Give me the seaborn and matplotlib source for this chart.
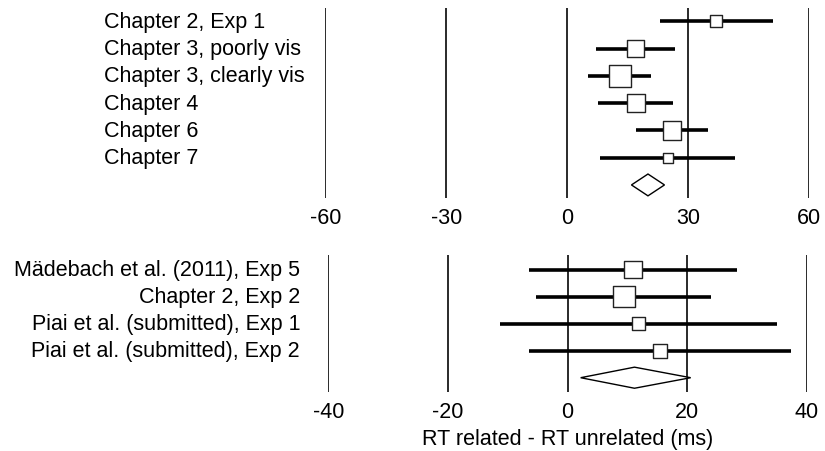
import matplotlib
matplotlib.use("Agg")
import matplotlib.pyplot as plt
import seaborn as sns
import pandas as pd

# ---- data: top panel ----
top_labels = ["Chapter 2, Exp 1", "Chapter 3, poorly vis", "Chapter 3, clearly vis",
              "Chapter 4", "Chapter 6", "Chapter 7"]
top_est = [37.0, 17.0, 13.1, 17.1, 26.1, 25.1]
top_lo = [23.0, 7.3, 5.1, 7.7, 17.2, 8.3]
top_hi = [51.2, 26.7, 20.9, 26.3, 35.1, 41.8]
top_weight = [11.7, 17.3, 22.0, 18.0, 18.7, 10.0]
top_summary = (20.1, 16.0, 24.2)  # estimate, lower, upper
top_ticks = [-60, -30, 0, 30, 60]

# ---- data: bottom panel ----
bot_labels = ["Mädebach et al. (2011), Exp 5", "Chapter 2, Exp 2",
              "Piai et al. (submitted), Exp 1", "Piai et al. (submitted), Exp 2"]
bot_est = [10.9, 9.4, 11.8, 15.4]
bot_lo = [-6.4, -5.3, -11.3, -6.5]
bot_hi = [28.3, 24.0, 35.0, 37.3]
bot_weight = [17.7, 21.7, 13.0, 14.0]
bot_summary = (11.2, 2.2, 20.6)
bot_ticks = [-40, -20, 0, 20, 40]

xlabel = "RT related - RT unrelated (ms)"

sns.set_theme(style="white")
plt.rcParams["font.family"] = ["Liberation Sans", "DejaVu Sans"]

FS = 15.5
W, H = 825, 452
fig = plt.figure(figsize=(W / 100, H / 100), dpi=100)


def px_axes(left, right, top, bottom):
    return fig.add_axes([left / W, 1 - bottom / H, (right - left) / W, (bottom - top) / H])


def forest(ax, labels, est, lo, hi, weight, summary, ticks, ylim, diamond_h):
    n = len(labels)
    df = pd.DataFrame({"label": labels, "est": est, "lo": lo, "hi": hi,
                       "w": weight, "row": list(range(n))})
    for t in ticks:
        ax.axvline(t, color="#2a2a2a", lw=1.4, zorder=0)
    ax.hlines(df["row"], df["lo"], df["hi"], color="black", lw=2.6, zorder=2)
    sizes = {w: (w * 0.72) ** 2 for w in df["w"]}
    sns.scatterplot(data=df, x="est", y="row", size="w", sizes=sizes, marker="s",
                    color="white", edgecolor="#222222", linewidth=1.0, legend=False,
                    ax=ax, zorder=3)
    m, l, u = summary
    ax.fill([l, m, u, m], [n, n - diamond_h, n, n + diamond_h], facecolor="white",
            edgecolor="black", lw=1.0, zorder=3)
    ax.set_xlim(ticks[0], ticks[-1])
    ax.set_ylim(*ylim)
    ax.set_xticks(ticks)
    ax.set_xticklabels([str(t) for t in ticks], fontsize=FS, color="black")
    ax.set_yticks([])
    ax.tick_params(axis="x", length=0, pad=6)
    ax.set_xlabel("")
    ax.set_ylabel("")
    for s in ax.spines.values():
        s.set_visible(False)
    ax.patch.set_alpha(0)
    return df


ax1 = px_axes(325.3, 808.7, 9.3, 199.3)
df1 = forest(ax1, top_labels, top_est, top_lo, top_hi, top_weight, top_summary,
             top_ticks, (6.49, -0.476), 0.4)
for i, lab in enumerate(top_labels):
    ax1.text(104 / W, 1 - (22.3 + i * 27.3) / H, lab, transform=fig.transFigure,
             ha="left", va="center", fontsize=FS, color="black")

ax2 = px_axes(328.3, 806.7, 256, 393.3)
df2 = forest(ax2, bot_labels, bot_est, bot_lo, bot_hi, bot_weight, bot_summary,
             bot_ticks, (4.54, -0.54), 0.39)
for i, lab in enumerate(bot_labels):
    ax2.text(300 / W, 1 - (270.7 + i * 26.8) / H, lab, transform=fig.transFigure,
             ha="right", va="center", fontsize=FS, color="black")
ax2.set_xlabel(xlabel, fontsize=FS, color="black")
ax2.xaxis.set_label_coords((567.7 - 328.3) / (806.7 - 328.3), -0.265)
ax2.xaxis.label.set_va("center")
ax2.xaxis.set_label_coords((567.7 - 328.3) / (806.7 - 328.3), -(440 - 393.3) / (393.3 - 256))

fig.savefig("out.png", dpi=100, facecolor="white")
